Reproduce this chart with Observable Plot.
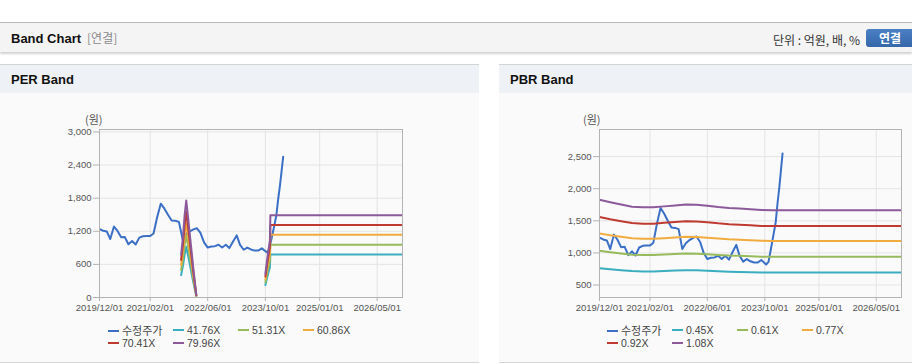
<!DOCTYPE html>
<html>
<head>
<meta charset="utf-8">
<script src="https://cdn.jsdelivr.net/npm/d3@7"></script>
<script src="https://cdn.jsdelivr.net/npm/@observablehq/plot@0.6"></script>
<style>
  html, body { margin:0; padding:0; background:#fff; width:912px; height:364px; overflow:hidden; font-family:"Liberation Sans", Arial, "Noto Sans CJK KR", sans-serif; }
  .abs { position:absolute; }
  .topline { left:0; top:22px; width:912px; height:1px; background:#b9b9b9; }
  .hdr { left:0; top:23px; width:912px; height:29px; background:#f4f4f4; box-shadow:0 2px 2px rgba(0,0,0,0.18); }
  .title { left:11px; top:30px; font-weight:bold; font-size:13px; color:#111; line-height:16px; white-space:nowrap; }
  .title .sub { font-weight:normal; color:#8a8a8a; font-family:"Noto Sans CJK KR", sans-serif; font-size:12px; margin-left:6px; }
  .unit { right:52px; top:32px; font-size:12px; color:#333; font-family:"Noto Sans CJK KR", sans-serif; line-height:16px; white-space:nowrap; }
  .btn { left:866px; top:29px; width:52px; height:18px; border-radius:3px; background:linear-gradient(#4a80c4,#3567aa); color:#fff; font-weight:bold; font-size:12px; font-family:"Noto Sans CJK KR", sans-serif; line-height:18px; text-indent:13px; }
  .panel { top:64px; height:297px; background:#fafafa; border-top:1px solid #d3d3d3; border-bottom:1px solid #d6d6d6; }
  .phead { left:0; top:0; right:0; height:28px; background:#eef1f6; }
  .ptitle { left:11px; top:7px; font-weight:bold; font-size:13px; color:#111; line-height:16px; }
  .unitlbl { font-size:11px; color:#555; font-family:"Noto Sans CJK KR", sans-serif; line-height:14px; }
  .leg { font-size:10.5px; color:#444; line-height:12px; white-space:nowrap; }
  .leg .sw { display:inline-block; width:11px; height:2px; vertical-align:middle; margin-right:3px; position:relative; top:-1px; }
  .leg .kr { font-family:"Noto Sans CJK KR", sans-serif; font-size:11px; }
  svg text { font-family:"Liberation Sans", Arial, sans-serif; }
</style>
</head>
<body>
<div class="abs topline"></div>
<div class="abs hdr"></div>
<div class="abs title">Band Chart<span class="sub">[연결]</span></div>
<div class="abs unit">단위 : 억원, 배, %</div>
<div class="abs btn">연결</div>

<div class="abs panel" id="perPanel" style="left:0;width:479px;">
  <div class="abs phead"></div>
  <div class="abs ptitle">PER Band</div>
</div>
<div class="abs panel" id="pbrPanel" style="left:499px;width:413px;">
  <div class="abs phead"></div>
  <div class="abs ptitle">PBR Band</div>
</div>

<script>
// ---------- data ----------
const xTickLabels = ["2019/12/01","2021/02/01","2022/06/01","2023/10/01","2025/01/01","2026/05/01"];
const perYTicks = [0, 600, 1200, 1800, 2400, 3000];
const pbrYTicks = [500, 1000, 1500, 2000, 2500];

const priceLabel = "수정주가";
const priceDates = [
  "2019-12-01","2020-01-01","2020-02-01","2020-03-01","2020-04-01","2020-05-01","2020-06-01","2020-07-01",
  "2020-08-01","2020-09-01","2020-10-01","2020-11-01","2020-12-01","2021-01-01","2021-02-01","2021-03-01",
  "2021-04-01","2021-05-01","2021-06-01","2021-07-01","2021-08-01","2021-09-01","2021-10-01","2021-11-01",
  "2021-12-01","2022-01-01","2022-02-01","2022-03-01","2022-04-01","2022-05-01","2022-06-01","2022-07-01",
  "2022-08-01","2022-09-01","2022-10-01","2022-11-01","2022-12-01","2023-01-01","2023-02-01","2023-03-01",
  "2023-04-01","2023-05-01","2023-06-01","2023-07-01","2023-08-01","2023-09-01","2023-10-12","2023-11-01",
  "2023-11-20","2023-12-10","2024-01-01","2024-01-15","2024-02-01","2024-02-15","2024-02-28"
];
const priceValues = [
  1240,1210,1195,1060,1285,1205,1090,1095,
  965,1025,960,1085,1110,1115,1115,1160,
  1460,1700,1610,1500,1395,1390,1370,1060,
  1150,1200,1235,1255,1170,1000,905,925,
  930,955,905,955,895,1015,1125,955,
  865,905,870,850,850,890,820,860,
  1050,1250,1480,1750,2030,2300,2550
];

// PER band lines (null = no band)
const perBandLabels = ["41.76X","51.31X","60.86X","70.41X","79.96X"];
const perBandDates = ["2021-10-20","2021-11-05","2021-11-18","2021-12-02","2021-12-20","2022-01-10","2022-01-31","2022-02-25","2022-03-01",
                      "2023-10-01","2023-10-20","2023-11-08","2023-11-12","2026-12-01"];
const per4176 = [405, 585, 773, 919, 731, 501, 271, 25, null, 226, 397, 543, 779, 779];
const per5131 = [498, 718, 949,1129, 898, 616, 334, 31, null, 277, 487, 667, 957, 957];
const per6086 = [590, 852,1126,1339,1065, 730, 396, 37, null, 329, 578, 791,1135,1135];
const per7041 = [683, 986,1303,1549,1232, 845, 458, 42, null, 380, 669, 915,1313,1313];
const per7996 = [776,1119,1479,1759,1399, 960, 520, 48, null, 432, 760,1039,1491,1491];

// PBR band lines
const pbrBandLabels = ["0.45X","0.61X","0.77X","0.92X","1.08X"];
const pbrBandDates = ["2019-12-01","2020-03-01","2020-06-01","2020-09-01","2020-12-01","2021-03-01","2021-06-01","2021-09-01",
                      "2021-12-01","2022-03-01","2022-06-01","2022-09-01","2022-12-01","2023-03-01","2023-06-01","2023-09-01",
                      "2023-12-01","2026-12-01"];
const pbr045 = [762,746,731,717,712,712,719,725,731,729,723,715,708,704,700,695,694,694];
const pbr061 = [1033,1011,991,972,966,966,974,983,991,988,980,969,960,955,949,942,941,941];
const pbr077 = [1304,1276,1251,1227,1219,1219,1230,1240,1251,1247,1237,1223,1212,1205,1198,1189,1187,1187];
const pbr092 = [1558,1524,1495,1466,1456,1456,1469,1482,1495,1490,1478,1461,1448,1440,1432,1420,1419,1419];
const pbr108 = [1828,1790,1755,1720,1710,1710,1725,1740,1755,1750,1735,1715,1700,1690,1680,1668,1665,1665];

const seriesColors = ["#3b70c6","#3aaec0","#97ba5c","#f1ac40","#bf3a30","#8c5a9b"];

// ---------- helpers ----------
const parse = s => new Date(s + "T00:00:00Z");
const xTicks = xTickLabels.map(s => parse(s.replace(/\//g, "-")));
const xDomain = [parse("2019-12-01"), parse("2026-12-01")];

function rows(dates, values, series) {
  return dates.map((d, i) => ({date: parse(d), value: values[i], series}));
}

function makeChart({bandLabels, bandDates, bandValues, yDomain, yTicks, width, marginLeft, marginRight}) {
  const names = [priceLabel, ...bandLabels];
  const data = [
    ...rows(priceDates, priceValues, priceLabel),
    ...bandValues.flatMap((vals, k) => rows(bandDates, vals, bandLabels[k]))
  ];
  return Plot.plot({
    width, height: 220,
    marginLeft, marginRight, marginTop: 28, marginBottom: 24,
    style: {background: "transparent", fontSize: "9.5px", color: "#555", overflow: "visible"},
    x: {type: "utc", domain: xDomain, label: null},
    y: {domain: yDomain, label: null},
    color: {domain: names, range: seriesColors},
    marks: [
      Plot.gridX(xTicks, {stroke: "#e4e4e4", strokeOpacity: 1}),
      Plot.gridY(yTicks, {stroke: "#e4e4e4", strokeOpacity: 1}),
      Plot.line(data, {x: "date", y: "value", z: "series", stroke: "series", strokeWidth: 2, clip: true}),
      Plot.frame({stroke: "#b3b3b3"}),
      Plot.axisX(xTicks, {tickSize: 4, tickPadding: 3, stroke: "#b3b3b3", tickFormat: d3.utcFormat("%Y/%m/%d"), fill: "#555", label: null}),
      Plot.axisY(yTicks, {tickSize: 6, tickPadding: 2, stroke: "#b3b3b3", tickFormat: d3.format(","), fill: "#555", label: null})
    ]
  });
}

function placeChart(panel, svg, left) {
  svg.style.position = "absolute";
  svg.style.left = left + "px";
  svg.style.top = "36px";
  panel.appendChild(svg);
}

function addUnit(panel, left) {
  const d = document.createElement("div");
  d.className = "abs unitlbl";
  d.style.left = left + "px";
  d.style.top = "47px";
  d.textContent = "(원)";
  panel.appendChild(d);
}

function addLegend(panel, left, names) {
  const cols = [0, 65, 130, 195];
  names.forEach((n, i) => {
    const d = document.createElement("div");
    d.className = "abs leg";
    d.style.left = (left + cols[i % 4]) + "px";
    d.style.top = (i < 4 ? 259 : 272) + "px";
    const sw = document.createElement("span");
    sw.className = "sw";
    sw.style.background = seriesColors[i];
    const t = document.createElement("span");
    t.textContent = n;
    if (i === 0) t.className = "kr";
    d.appendChild(sw); d.appendChild(t);
    panel.appendChild(d);
  });
}

const perPanel = document.getElementById("perPanel");
const pbrPanel = document.getElementById("pbrPanel");

placeChart(perPanel, makeChart({
  bandLabels: perBandLabels, bandDates: perBandDates,
  bandValues: [per4176, per5131, per6086, per7041, per7996],
  yDomain: [0, 3044], yTicks: perYTicks, width: 479, marginLeft: 99, marginRight: 77
}), 0);
addUnit(perPanel, 85);
addLegend(perPanel, 108, [priceLabel, ...perBandLabels]);

placeChart(pbrPanel, makeChart({
  bandLabels: pbrBandLabels, bandDates: pbrBandDates,
  bandValues: [pbr045, pbr061, pbr077, pbr092, pbr108],
  yDomain: [306, 2922], yTicks: pbrYTicks, width: 413, marginLeft: 100, marginRight: 11
}), 0);
addUnit(pbrPanel, 84);
addLegend(pbrPanel, 108, [priceLabel, ...pbrBandLabels]);
</script>
</body>
</html>
